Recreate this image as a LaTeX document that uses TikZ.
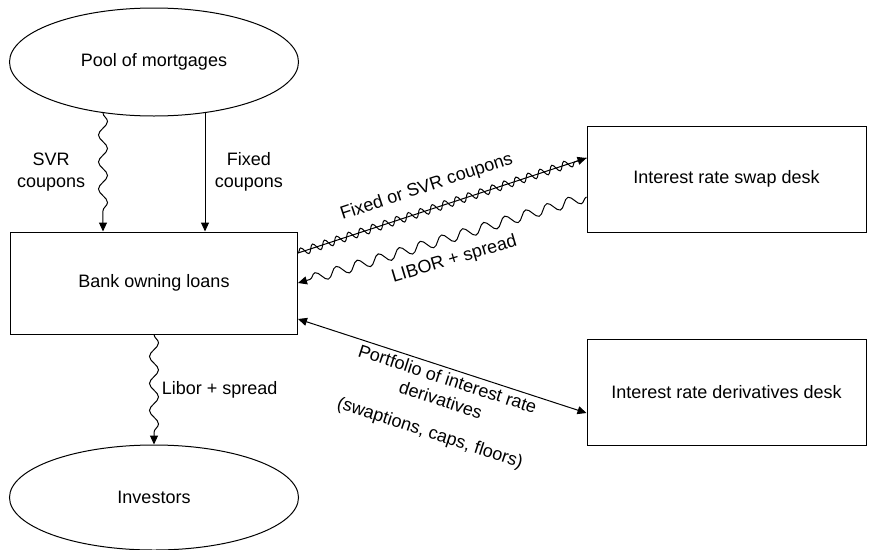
\documentclass[tikz,border=0pt]{standalone}
\usepackage{fontspec}
\setmainfont{Liberation Sans}
\usetikzlibrary{arrows.meta,positioning,shapes.geometric,decorations.pathmorphing}

\begin{document}
\begin{tikzpicture}[
    x=1pt, y=-1pt,
    font=\fontsize{18}{22}\selectfont,
    >={Triangle[length=9pt,width=8pt]},
    oval/.style={
        draw,
        ellipse,
        line width=1pt,
        inner sep=0pt,
        minimum width=289pt,
        minimum height=108pt
    },
    box/.style={
        draw,
        line width=1pt,
        minimum width=279pt,
        minimum height=106pt
    },
    line/.style={->, line width=1pt},
    wavy/.style={line, decorate,
        decoration={snake, amplitude=4.5pt, segment length=27pt, post length=9pt}}
]

\useasboundingbox (0,0) rectangle (869,549);

\node[oval] (pool) at (154,62) {Pool of mortgages};
\node[box, minimum width=287pt, minimum height=102pt, below=115pt of pool] (bank) {Bank owning loans};
\node[oval, minimum height=105pt, below=110pt of bank] (investors) {Investors};

\node[box] (swap) at (726.5,179) {Interest rate swap desk};
\node[box, below=106pt of swap] (deriv) {Interest rate derivatives desk};

\draw[wavy] (pool.225) -- (pool.225 |- bank.north)
    node[midway, left=14pt, align=center] {SVR\\coupons};
\draw[line] (pool.-45) -- (pool.-45 |- bank.north)
    node[midway, right=6pt, align=center] {Fixed\\coupons};
\draw[wavy] (bank.south) -- (investors.north)
    node[midway, right=4pt] {Libor + spread};

% swap legs
\draw[line] ([yshift=30pt]bank.east) -- ([yshift=21pt]swap.west)
    node[pos=0.47, above=10pt, sloped] {Fixed or SVR coupons};
\draw[line width=1pt, decorate,
    decoration={snake, amplitude=4pt, segment length=12.6pt, post length=12pt}]
    ([yshift=30pt]bank.east) -- ([yshift=21pt]swap.west);
\draw[wavy, decoration={amplitude=5pt, segment length=22pt}]
    ([yshift=-18pt]swap.west) -- (bank.east)
    node[pos=0.48, below=10pt, sloped] {LIBOR + spread};

\draw[line, <->] ([yshift=-36pt]bank.east) -- ([yshift=-21pt]deriv.west)
    node[pos=0.53, below=0pt, sloped, align=center]
    {Portfolio of interest rate\\derivatives\\[12pt](swaptions, caps, floors)};

\end{tikzpicture}
\end{document}
